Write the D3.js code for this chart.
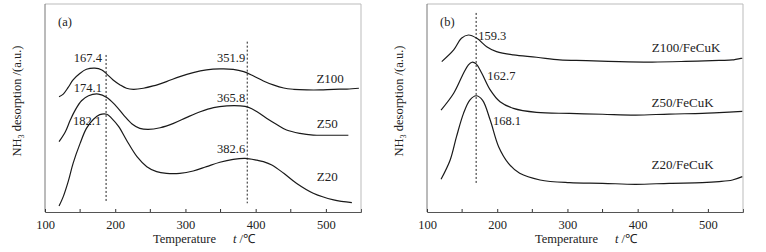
<!DOCTYPE html>
<html>
<head>
<meta charset="utf-8">
<script src="https://cdn.jsdelivr.net/npm/d3@7"></script>
<style>
  body { margin: 0; background: #fff; }
  svg { display: block; font-family: "Liberation Serif", "Times New Roman", serif; }
</style>
</head>
<body>
<div id="chart"></div>
<script>
// temperature (°C) and NH3 desorption signal (a.u.)
const z100T = [120, 126, 133, 140, 150, 159, 171, 181, 188, 197, 207, 216, 226, 240, 254, 273, 292, 311, 330, 349, 368, 383, 397, 411, 425, 440, 454, 473, 492, 511, 530, 547];
const z100V = [55.4, 56.7, 59.9, 63.5, 66.7, 68.6, 69.2, 68.3, 66.3, 63.5, 61.1, 59.5, 59.0, 59.5, 60.6, 62.7, 65.1, 67.0, 68.3, 68.8, 68.6, 67.5, 65.4, 63.0, 61.1, 59.6, 59.0, 58.7, 58.7, 59.0, 59.1, 59.5];

const z50T = [120, 129, 136, 143, 152, 162, 176, 188, 200, 212, 224, 235, 247, 264, 283, 302, 321, 340, 359, 378, 390, 402, 416, 430, 444, 463, 482, 501, 520, 532];
const z50V = [33.8, 38.6, 44.2, 49.0, 53.5, 55.9, 56.7, 55.1, 51.4, 46.6, 42.3, 40.2, 39.7, 40.5, 42.6, 45.5, 48.2, 50.2, 51.0, 51.0, 50.3, 48.2, 45.0, 42.1, 39.4, 37.8, 37.0, 36.9, 36.9, 36.9];

const z20T = [120, 126, 133, 140, 150, 159, 169, 178, 188, 195, 205, 216, 231, 245, 259, 273, 292, 311, 330, 349, 368, 385, 402, 411, 423, 440, 458, 482, 511, 537];
const z20V = [2.9, 7.4, 14.6, 23.4, 33.0, 40.2, 44.6, 46.8, 47.0, 45.0, 41.0, 34.6, 26.6, 21.8, 19.4, 18.6, 18.6, 19.7, 21.8, 23.9, 25.3, 25.8, 24.9, 24.2, 22.6, 18.6, 13.8, 9.0, 5.8, 4.5];

const f100T = [121, 138, 149, 159, 171, 185, 199, 223, 256, 289, 327, 374, 421, 468, 516, 535, 549];
const f100V = [72.3, 77.9, 83.5, 85.1, 83.5, 79.5, 77.1, 75.5, 74.4, 73.1, 72.8, 72.3, 72.1, 72.4, 72.9, 73.1, 74.0];

const f50T = [120, 138, 152, 159, 164, 170, 178, 190, 204, 223, 256, 303, 350, 397, 445, 492, 516, 549];
const f50V = [49.0, 57.1, 66.7, 70.7, 72.0, 71.2, 66.7, 58.7, 53.0, 49.8, 47.9, 47.4, 47.0, 46.6, 47.1, 47.4, 47.8, 48.4];

const f20T = [120, 133, 142, 152, 161, 170, 179, 190, 202, 216, 232, 261, 303, 350, 397, 445, 492, 516, 535, 549];
const f20V = [15.7, 25.0, 36.2, 47.4, 53.8, 55.9, 53.8, 44.2, 31.4, 23.4, 18.6, 15.4, 14.1, 13.8, 13.3, 13.8, 14.1, 14.6, 15.4, 17.0];

const xTicks = [100, 200, 300, 400, 500];
const xMinor = [150, 250, 350, 450];

// dotted guide lines: temperature, from-signal, to-signal
const guidesA = [[187, 75.5, 5.0], [388, 81.9, 4.2]];
const guidesB = [[170, 95.7, 13.0]];

// peak labels: text, temperature, signal
const labelsA = [["167.4", 161, 72.3], ["174.1", 161, 57.8], ["182.1", 160, 41.8],
                 ["351.9", 365, 71.9], ["365.8", 365, 53.1], ["382.6", 365, 28.4]];
const labelsB = [["159.3", 193, 82.7], ["162.7", 206, 63.5], ["168.1", 214, 41.6]];

const namesA = [["Z100", 506, 62.2], ["Z50", 502, 40.4], ["Z20", 502, 15.0]];
const namesB = [["Z100/FeCuK", 469, 76.7], ["Z50/FeCuK", 464, 50.5], ["Z20/FeCuK", 464, 20.7]];

const W = 766, H = 252;
const svg = d3.select("#chart").append("svg")
  .attr("width", W).attr("height", H);

function panel(left, tag, tagX, series, guides, labels, names, ylabX, titleX) {
  const top = 4, bottom = 212, width = 316;
  const x = d3.scaleLinear().domain([100, 550]).range([left, left + width]);
  const y = d3.scaleLinear().domain([0, 100]).range([bottom, top]);
  const g = svg.append("g");

  // frame
  g.append("line").attr("x1", left).attr("x2", left + width).attr("y1", top).attr("y2", top)
    .attr("stroke", "#bbb");
  g.append("line").attr("x1", left + width).attr("x2", left + width).attr("y1", top).attr("y2", bottom)
    .attr("stroke", "#bbb");
  g.append("line").attr("x1", left).attr("x2", left).attr("y1", top).attr("y2", bottom)
    .attr("stroke", "#777");

  // x axis with inward ticks
  const ax = g.append("g").attr("transform", `translate(0,${bottom})`)
    .call(d3.axisBottom(x).tickValues(xTicks).tickSize(-3).tickPadding(8));
  ax.select(".domain").attr("stroke", "#555");
  ax.selectAll(".tick line").attr("stroke", "#333");
  ax.selectAll("text").attr("font-size", 12.5).attr("fill", "#222")
    .style("font-family", "Liberation Serif, serif");
  g.selectAll(".minor").data(xMinor).join("line")
    .attr("x1", d => x(d)).attr("x2", d => x(d))
    .attr("y1", bottom).attr("y2", bottom - 3)
    .attr("stroke", "#333");

  // guides
  g.selectAll(".guide").data(guides).join("line")
    .attr("x1", d => x(d[0])).attr("x2", d => x(d[0]))
    .attr("y1", d => y(d[1])).attr("y2", d => y(d[2]))
    .attr("stroke", "#222").attr("stroke-width", 1)
    .attr("stroke-dasharray", "2,2");

  // curves
  const line = d3.line().x(d => x(d[0])).y(d => y(d[1])).curve(d3.curveCatmullRom);
  series.forEach(s => {
    g.append("path")
      .datum(d3.zip(s[0], s[1]))
      .attr("fill", "none")
      .attr("stroke", "#1a1a1a")
      .attr("stroke-width", 1.2)
      .attr("d", line);
  });

  // peak labels and sample names
  g.selectAll(".lab").data(labels).join("text")
    .attr("x", d => x(d[1])).attr("y", d => y(d[2]))
    .attr("text-anchor", "middle")
    .attr("font-size", 12.5).attr("fill", "#222")
    .text(d => d[0]);
  g.selectAll(".name").data(names).join("text")
    .attr("x", d => x(d[1])).attr("y", d => y(d[2]))
    .attr("text-anchor", "middle")
    .attr("font-size", 13).attr("fill", "#222")
    .text(d => d[0]);

  g.append("text").attr("x", tagX).attr("y", 26)
    .attr("font-size", 12.5).attr("fill", "#222").text(tag);

  // y label
  const yl = g.append("text")
    .attr("transform", `translate(${ylabX},101) rotate(-90)`)
    .attr("text-anchor", "middle")
    .attr("font-size", 12.5).attr("fill", "#222");
  yl.append("tspan").text("NH");
  yl.append("tspan").attr("font-size", 8).attr("dy", 3).text("3");
  yl.append("tspan").attr("dy", -3).text(" desorption /(a.u.)");

  // x title
  const xt = g.append("text").attr("x", titleX).attr("y", 243)
    .attr("font-size", 12.5).attr("fill", "#222");
  xt.append("tspan").text("Temperature");
  xt.append("tspan").attr("dx", 17).attr("font-style", "italic").text("t");
  xt.append("tspan").text(" /\u2103");
}

panel(45, "(a)", 58, [[z100T, z100V], [z50T, z50V], [z20T, z20V]],
  guidesA, labelsA, namesA, 21, 153);
panel(427, "(b)", 440, [[f100T, f100V], [f50T, f50V], [f20T, f20V]],
  guidesB, labelsB, namesB, 403, 535);
</script>
</body>
</html>
